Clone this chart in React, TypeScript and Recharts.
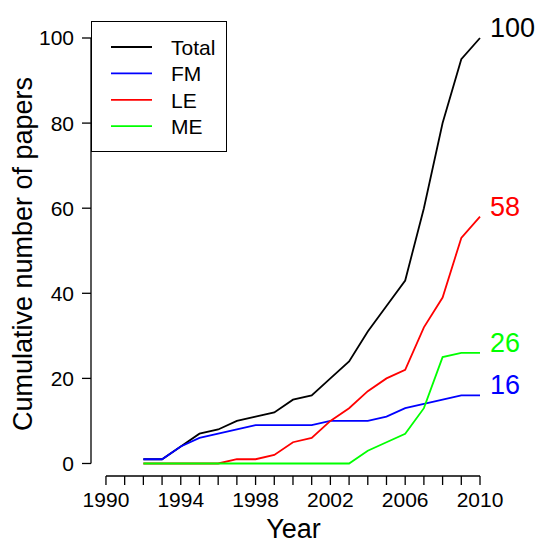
import React from 'react';
import { LineChart, Line, XAxis, YAxis, ReferenceLine, Legend, Label } from 'recharts';

const years = [1992, 1993, 1994, 1995, 1996, 1997, 1998, 1999, 2000, 2001, 2002, 2003, 2004, 2005, 2006, 2007, 2008, 2009, 2010];
const total = [1, 1, 4, 7, 8, 10, 11, 12, 15, 16, 20, 24, 31, 37, 43, 60, 80, 95, 100];
const fm = [1, 1, 4, 6, 7, 8, 9, 9, 9, 9, 10, 10, 10, 11, 13, 14, 15, 16, 16];
const le = [0, 0, 0, 0, 0, 1, 1, 2, 5, 6, 10, 13, 17, 20, 22, 32, 39, 53, 58];
const me = [0, 0, 0, 0, 0, 0, 0, 0, 0, 0, 0, 0, 3, 5, 7, 13, 25, 26, 26];

const xTicks = [1990, 1991, 1992, 1993, 1994, 1995, 1996, 1997, 1998, 1999, 2000, 2001, 2002, 2003, 2004, 2005, 2006, 2007, 2008, 2009, 2010];
const xLabelYears = [1990, 1994, 1998, 2002, 2006, 2010];
const yTicks = [0, 20, 40, 60, 80, 100];

const seriesNames = ['Total', 'FM', 'LE', 'ME'];
const seriesColors = ['#000000', '#0000FF', '#FF0000', '#00FF00'];
const seriesKeys = ['total', 'fm', 'le', 'me'];

const data = years.map((y, i) => ({ year: y, total: total[i], fm: fm[i], le: le[i], me: me[i] }));

const FONT = '"Liberation Sans", Arial, Helvetica, sans-serif';
const X_MIN = 1989.2;
const Y_MIN = -2.94;

const makeEndDot = (color: string) => (p: any) => {
  if (p.index !== data.length - 1) return <g key={`d-${p.index}`} />;
  return (
    <text
      key={`d-${p.index}`}
      x={p.cx + 10}
      y={p.cy - 1}
      fill={color}
      fontSize={27}
      fontFamily={FONT}
      textAnchor="start"
    >
      {p.value}
    </text>
  );
};

const LegendBox = () => (
  <div
    style={{
      width: 136,
      height: 131,
      border: '1px solid #000',
      boxSizing: 'border-box',
      background: '#fff',
    }}
  >
    <svg width={134} height={129} style={{ display: 'block' }}>
      {seriesNames.map((n, i) => (
        <g key={n}>
          <line x1={19} x2={60} y1={25 + i * 26.4} y2={25 + i * 26.4} stroke={seriesColors[i]} strokeWidth={1.8} />
          <text x={79} y={33 + i * 26.4} fontSize={21} fontFamily={FONT} fill="#000">
            {n}
          </text>
        </g>
      ))}
    </svg>
  </div>
);

export default function App() {
  return (
    <div style={{ position: 'absolute', left: 0, top: 0, width: 539, height: 544, background: '#fff' }}>
      <LineChart
        width={539}
        height={544}
        data={data}
        margin={{ top: 38, right: 59, left: 0, bottom: 0 }}
        style={{ fontFamily: FONT }}
      >
        <XAxis
          dataKey="year"
          type="number"
          domain={[X_MIN, 2010]}
          ticks={xTicks}
          interval={0}
          height={68}
          axisLine={false}
          tickLine={{ stroke: '#000', strokeWidth: 1.3 }}
          tickSize={9}
          tickMargin={7}
          tick={{ fill: '#000', fontSize: 21, fontFamily: FONT }}
          tickFormatter={(v: number) => (xLabelYears.includes(v) ? String(v) : '')}
        >
          <Label
            content={(props: any) => {
              const vb = props.viewBox || { x: 91, y: 476, width: 389, height: 68 };
              return (
                <text
                  x={vb.x + vb.width / 2 + 8}
                  y={vb.y + 62}
                  textAnchor="middle"
                  fontSize={27}
                  fontFamily={FONT}
                  fill="#000"
                >
                  Year
                </text>
              );
            }}
          />
        </XAxis>
        <YAxis
          type="number"
          domain={[Y_MIN, 100]}
          ticks={yTicks}
          interval={0}
          width={91}
          axisLine={false}
          tickLine={{ stroke: '#000', strokeWidth: 1.3 }}
          tickSize={9}
          tickMargin={8}
          tick={{ fill: '#000', fontSize: 21, fontFamily: FONT }}
        >
          <Label
            content={(props: any) => {
              const vb = props.viewBox || { x: 0, y: 38, width: 91, height: 438 };
              const cx = vb.x + 32;
              const cy = vb.y + vb.height / 2 - 3;
              return (
                <text
                  x={cx}
                  y={cy}
                  transform={`rotate(-90, ${cx}, ${cy})`}
                  textAnchor="middle"
                  fontSize={27}
                  fontFamily={FONT}
                  fill="#000"
                >
                  Cumulative number of papers
                </text>
              );
            }}
          />
        </YAxis>
        <ReferenceLine
          segment={[{ x: X_MIN, y: 0 }, { x: X_MIN, y: 100 }]}
          stroke="#000"
          strokeWidth={1.3}
          ifOverflow="visible"
        />
        <ReferenceLine
          segment={[{ x: 1990, y: Y_MIN }, { x: 2010, y: Y_MIN }]}
          stroke="#000"
          strokeWidth={1.3}
          ifOverflow="visible"
        />
        {seriesKeys.map((k, i) => (
          <Line
            key={k}
            dataKey={k}
            name={seriesNames[i]}
            stroke={seriesColors[i]}
            strokeWidth={1.8}
            type="linear"
            dot={makeEndDot(seriesColors[i])}
            activeDot={false}
            isAnimationActive={false}
          />
        ))}
        <Legend
          layout="vertical"
          align="center"
          verticalAlign="middle"
          content={() => <LegendBox />}
          wrapperStyle={{ left: 91, top: 21, width: 136, height: 131 }}
        />
      </LineChart>
    </div>
  );
}
